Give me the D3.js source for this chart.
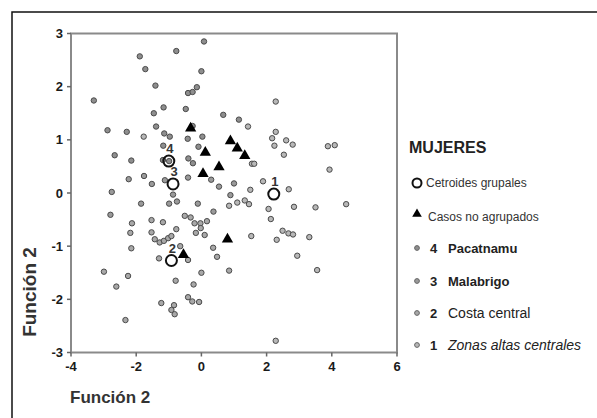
<!DOCTYPE html>
<html lang="es">
<head>
    <meta charset="UTF-8">
    <title>Funciones discriminantes - Mujeres</title>
    <script src="https://cdn.jsdelivr.net/npm/d3@7"></script>
    <style>
        body{
            margin:0;
            background:#fff;
            font-family:"Liberation Sans",Arial,sans-serif;
        }
        .tick-label{
            font-size:13px;
            font-weight:bold;
            fill:#1a1a1a;
        }
        .axis-title{
            font-weight:bold;
            fill:#333;
        }
    </style>
</head>
<body>
<script>
    // datos: [funcion x, funcion y]
    var pacatnamu = [[-3.30,1.74],[-1.89,2.57],[-1.72,2.33],[-1.41,2.02],[-0.77,2.67],[0.08,2.85],[0.00,2.29],
        [-0.41,1.88],[-0.27,1.90],[-0.14,1.99],[-1.16,1.61],[-1.46,1.50],[-0.48,1.58],[-1.39,1.25],[-2.88,1.18],
        [-2.29,1.15],[-1.14,1.12],[-0.97,1.06],[-0.42,1.02],[-0.27,1.26],[0.03,1.06],[-1.17,0.89],[-2.66,0.71],
        [-2.15,0.61],[-1.18,0.62],[-0.99,0.60],[-0.40,0.65],[-0.26,0.56],[-0.09,0.87],[0.67,1.47],[1.15,1.38]];
    var malabrigo = [[0.30,0.25],[-0.41,0.29],[-1.12,0.24],[-1.52,0.17],[-1.76,0.32],[-2.23,0.26],[-2.75,0.02],
        [-0.87,-0.03],[-1.85,-0.20],[-0.99,-0.20],[-0.75,-0.16],[-0.11,-0.20],[1.00,0.18],[0.54,0.12],[0.89,-0.04],
        [0.37,-0.35],[-2.79,-0.41]];
    var costaCentral = [[0.17,-0.53],[-0.03,-0.57],[-0.21,-0.57],[-0.02,-0.66],[0.10,-0.79],[-0.17,-0.75],[0.36,-1.03],
        [0.48,-1.20],[0.85,-1.46],[0.00,-1.50],[-0.24,-1.72],[-0.41,-1.96],[-0.28,-2.04],[-0.07,-2.05],[-0.51,-0.43],
        [-0.33,-0.46],[-2.13,-0.57],[-1.53,-0.51],[-1.18,-0.55],[-0.77,-0.68],[-2.18,-0.75],[-1.53,-0.74],[-1.43,-0.87],
        [-1.28,-0.93],[-1.15,-0.90],[-1.02,-0.85],[-0.92,-0.81],[-2.15,-1.04],[-1.30,-1.23],[-0.41,-1.26],[-2.99,-1.48],
        [-2.25,-1.56],[-2.61,-1.76],[-0.79,-1.65],[-1.23,-2.07],[-0.84,-2.11],[-0.92,-2.20],[-0.82,-2.28],[-2.33,-2.39],
        [-0.65,-1.00]];
    var zonasAltas = [[1.55,0.55],[1.62,0.55],[1.43,1.25],[2.28,1.72],[2.28,1.15],[2.17,1.03],[2.24,0.89],[2.60,0.99],
        [2.80,0.91],[2.53,0.72],[1.89,0.22],[2.68,0.07],[1.50,0.06],[0.85,-0.24],[1.10,-0.18],[1.33,-0.14],[1.46,-0.21],
        [2.06,-0.30],[2.13,-0.49],[2.84,-0.26],[3.50,-0.27],[4.44,-0.21],[3.88,0.88],[4.09,0.90],[3.93,0.44],[1.53,-0.81],
        [2.49,-0.71],[2.67,-0.76],[2.81,-0.78],[2.31,-0.88],[3.31,-0.83],[2.94,-1.18],[3.55,-1.45],[2.28,-2.78],[-1.77,1.06]];
    var noAgrupados = [[-0.33,1.22],[0.12,0.76],[0.89,0.98],[1.10,0.84],[1.33,0.70],[0.54,0.49],[0.05,0.36],[0.80,-0.87],[-0.55,-1.16]];
    var centroides = [[-1.00,0.60],[-0.87,0.17],[-0.92,-1.27],[2.22,-0.02]];
    var centroideLabels = ['4','3','2','1'];
    var xTicks = [-4,-2,0,2,4,6];
    var yTicks = [-3,-2,-1,0,1,2,3];
    var legendNums = ['4','3','2','1'];
    var legendNames = ['Pacatnamu','Malabrigo','Costa central','Zonas altas centrales'];

    var width = 597, height = 418;

    var svg = d3.select('body').append('svg')
        .attr('width',width)
        .attr('height',height);

    // marco exterior (solo se ven arriba e izquierda)
    svg.append('rect')
        .attr('x',12).attr('y',12)
        .attr('width',620).attr('height',440)
        .attr('fill','none')
        .attr('stroke','#111')
        .attr('stroke-width',1.5);

    var x = d3.scaleLinear().domain([-4,6]).range([71,397]);
    var y = d3.scaleLinear().domain([-3,3]).range([352.5,33.5]);

    // caja del grafico
    svg.append('rect')
        .attr('x',x(-4)).attr('y',y(3))
        .attr('width',x(6)-x(-4)).attr('height',y(-3)-y(3))
        .attr('fill','none')
        .attr('stroke','#8a8a8a')
        .attr('stroke-width',2);

    // eje y
    var gy = svg.append('g');
    gy.selectAll('line').data(yTicks).enter().append('line')
        .attr('x1',x(-4)-4).attr('x2',x(-4))
        .attr('y1',function(d){return y(d);}).attr('y2',function(d){return y(d);})
        .attr('stroke','#666').attr('stroke-width',1.5);
    gy.selectAll('text').data(yTicks).enter().append('text')
        .attr('class','tick-label')
        .attr('x',63)
        .attr('y',function(d){return y(d);})
        .attr('dy','0.35em')
        .attr('text-anchor','end')
        .text(function(d){return d;});

    // eje x
    var gx = svg.append('g');
    gx.selectAll('line').data(xTicks).enter().append('line')
        .attr('x1',function(d){return x(d);}).attr('x2',function(d){return x(d);})
        .attr('y1',y(-3)).attr('y2',y(-3)+4)
        .attr('stroke','#666').attr('stroke-width',1.5);
    gx.selectAll('text').data(xTicks).enter().append('text')
        .attr('class','tick-label')
        .attr('x',function(d){return x(d);})
        .attr('y',366)
        .attr('dy','0.35em')
        .attr('text-anchor','middle')
        .text(function(d){return d;});

    // titulos de ejes
    svg.append('text')
        .attr('class','axis-title')
        .attr('x',70).attr('y',403)
        .style('font-size','17px')
        .text('Función 2');
    svg.append('text')
        .attr('class','axis-title')
        .attr('transform','translate(36,292) rotate(-90)')
        .attr('text-anchor','middle')
        .style('font-size','19px')
        .text('Función 2');

    // estilos de los grupos
    var grupos = [
        {data:zonasAltas, fill:'#b8b8b8'},
        {data:costaCentral, fill:'#a8a8a8'},
        {data:malabrigo, fill:'#9a9a9a'},
        {data:pacatnamu, fill:'#8e8e8e'}
    ];

    var plot = svg.append('g');
    grupos.forEach(function(g){
        plot.selectAll(null).data(g.data).enter().append('circle')
            .attr('cx',function(d){return x(d[0]);})
            .attr('cy',function(d){return y(d[1]);})
            .attr('r',2.7)
            .attr('fill',g.fill)
            .attr('stroke','#4a4a4a')
            .attr('stroke-width',1);
    });

    // casos no agrupados
    plot.selectAll('.tri').data(noAgrupados).enter().append('path')
        .attr('class','tri')
        .attr('d',d3.symbol().type(d3.symbolTriangle).size(55))
        .attr('transform',function(d){return 'translate(' + x(d[0]) + ',' + y(d[1]) + ')';})
        .attr('fill','#000');

    // centroides
    plot.selectAll('.cen').data(centroides).enter().append('circle')
        .attr('class','cen')
        .attr('cx',function(d){return x(d[0]);})
        .attr('cy',function(d){return y(d[1]);})
        .attr('r',5.5)
        .attr('fill','none')
        .attr('stroke','#111')
        .attr('stroke-width',2);
    plot.selectAll('.cen-label').data(centroides).enter().append('text')
        .attr('class','cen-label')
        .attr('x',function(d){return x(d[0]) + 1;})
        .attr('y',function(d){return y(d[1]) - 8;})
        .attr('text-anchor','middle')
        .style('font-size','13px')
        .style('font-weight','bold')
        .style('fill','#333')
        .text(function(d,i){return centroideLabels[i];});

    // leyenda
    var lg = svg.append('g');
    lg.append('text')
        .attr('x',409).attr('y',153)
        .style('font-size','16px')
        .style('font-weight','bold')
        .style('fill','#222')
        .text('MUJERES');

    lg.append('circle')
        .attr('cx',417).attr('cy',183).attr('r',4.5)
        .attr('fill','none').attr('stroke','#111').attr('stroke-width',2);
    lg.append('text')
        .attr('x',426).attr('y',183).attr('dy','0.35em')
        .style('font-size','12px').style('fill','#333')
        .text('Cetroides grupales');

    lg.append('path')
        .attr('d',d3.symbol().type(d3.symbolTriangle).size(40))
        .attr('transform','translate(417,214)')
        .attr('fill','#000');
    lg.append('text')
        .attr('x',428).attr('y',217).attr('dy','0.35em')
        .style('font-size','12px').style('fill','#333')
        .text('Casos no agrupados');

    var legendY = [248,281,313,345];
    var legendFill = ['#8e8e8e','#9a9a9a','#a8a8a8','#b8b8b8'];
    legendNums.forEach(function(n,i){
        lg.append('circle')
            .attr('cx',417).attr('cy',legendY[i]).attr('r',2.4)
            .attr('fill',legendFill[i]).attr('stroke','#666').attr('stroke-width',1);
        lg.append('text')
            .attr('x',430).attr('y',legendY[i]).attr('dy','0.38em')
            .style('font-size','13px').style('font-weight','bold').style('fill','#222')
            .text(n);
        lg.append('text')
            .attr('x',448).attr('y',legendY[i]).attr('dy','0.38em')
            .style('font-size', i < 2 ? '13px' : '14px')
            .style('font-weight', i < 2 ? 'bold' : 'normal')
            .style('font-style', i === 3 ? 'italic' : 'normal')
            .style('fill','#222')
            .text(legendNames[i]);
    });
</script>
</body>
</html>
